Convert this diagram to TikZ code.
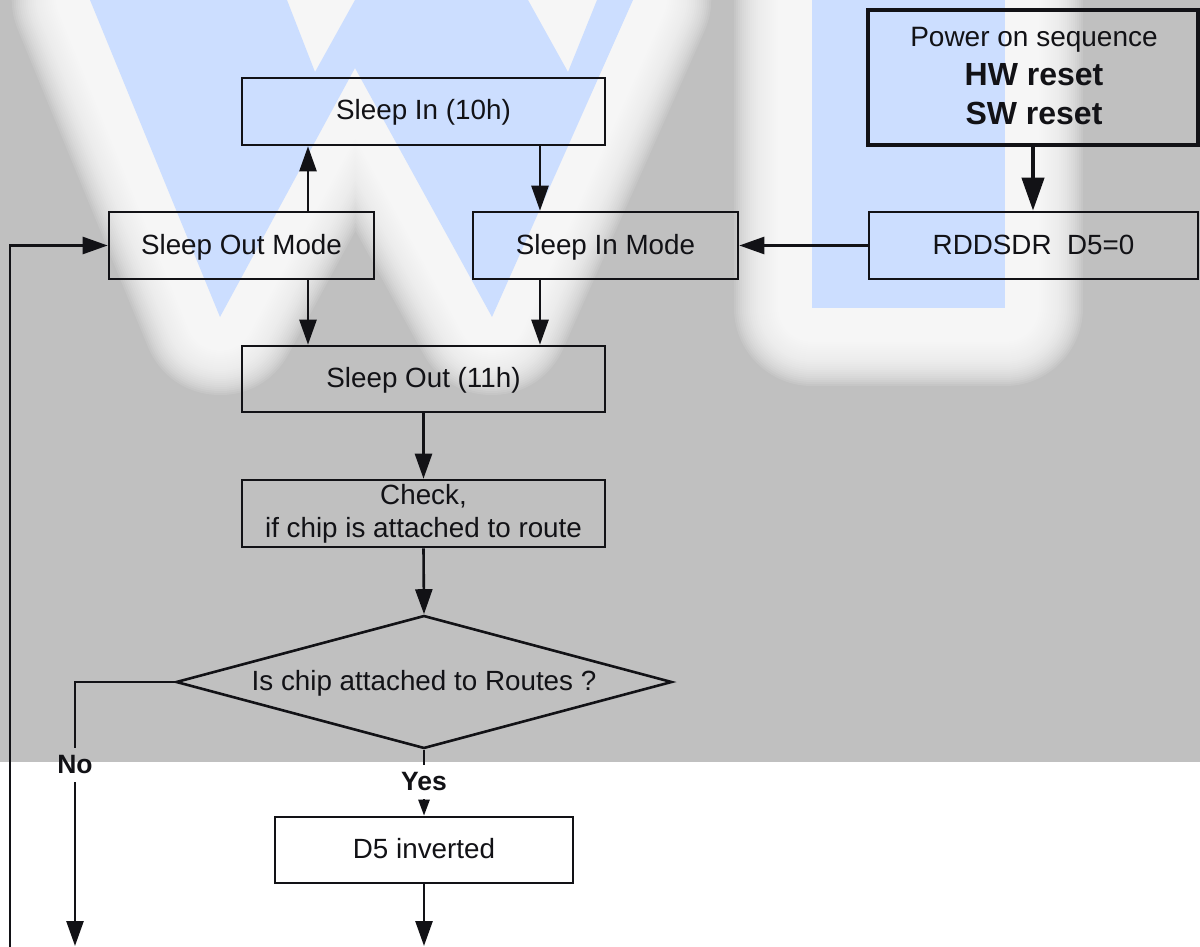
\documentclass[tikz,border=0pt]{standalone}
\usepackage{fontspec}
\setmainfont{Liberation Sans}
\usetikzlibrary{arrows.meta,shapes.geometric}
\definecolor{bggray}{RGB}{192,192,192}
\definecolor{wmblue}{RGB}{204,222,255}
\definecolor{ink}{RGB}{18,18,22}
\begin{document}
\begin{tikzpicture}[x=1pt,y=-1pt,
  every node/.style={font=\fontsize{27.8}{33}\selectfont, text=ink},
  plainbox/.style={draw=ink, line width=2.6pt, rectangle, inner sep=0pt, minimum height=67pt},
  box/.style={plainbox, text height=20pt, text depth=3pt},
  conn/.style={draw=ink, line width=2.6pt},
  arr/.style={conn, -{Triangle[length=25pt,width=17pt]}},
  smallarr/.style={conn, -{Triangle[length=16pt,width=11pt]}},
  bigarr/.style={draw=ink, line width=4.2pt, -{Triangle[length=33pt,width=22pt]}},
  lbl/.style={font=\fontsize{26.5}{30}\selectfont\bfseries, inner xsep=0pt, inner ysep=8pt}
]
\useasboundingbox (0,0) rectangle (1200,947);
\fill[white] (0,0) rectangle (1200,947);
% background with watermark
\begin{scope}
  \clip (0,0) rectangle (1200,762);
  \fill[bggray] (0,0) rectangle (1200,762);
  \foreach \w in {156,152,...,4} {
    \draw[white, opacity=0.1, line width=\w pt, line join=round]
      (90,0) -- (287,0) -- (315,72) -- (355,0) -- (528,0) -- (568,72) -- (597,0)
      -- (633,0) -- (492,317) -- (355,68) -- (220,317) -- cycle;
    \draw[white, opacity=0.1, line width=\w pt, line join=round]
      (812,0) rectangle (1005,308);
  }
  \fill[wmblue]
      (90,0) -- (287,0) -- (315,72) -- (355,0) -- (528,0) -- (568,72) -- (597,0)
      -- (633,0) -- (492,317) -- (355,68) -- (220,317) -- cycle;
  \fill[wmblue] (812,0) rectangle (1005,308);
\end{scope}
% nodes
\node[box, minimum width=363pt] (sin) at (423.5,111.5) {Sleep In (10h)};
\node[box, minimum width=265pt] (som) at (241.5,245.5) {Sleep Out Mode};
\node[box, minimum width=265pt] (sim) at (605.5,245.5) {Sleep In Mode};
\node[box, minimum width=329pt] (rdd) at (1033.5,245.5) {RDDSDR\ \ D5=0};
\node[plainbox, line width=4.5pt, minimum width=330pt, minimum height=135pt] (pwr) at (1033,77.5) {};
\node[align=center, inner sep=0pt, font=\fontsize{28}{39}\selectfont] (pwrtxt) at (1034,76)
  {Power on sequence\\{\fontsize{32}{39}\selectfont\bfseries HW reset}\\{\fontsize{32}{39}\selectfont\bfseries SW reset}};
\node[box, minimum width=363pt, minimum height=66pt] (sout) at (423.5,379) {Sleep Out (11h)};
\node[plainbox, minimum width=363pt, align=center] (chk) at (423.5,513.5) {Check,\\if chip is attached to route};
\node[draw=ink, line width=2.6pt, diamond, aspect=3.7, minimum width=496pt, minimum height=133pt, inner sep=0pt, text height=20pt, text depth=3pt] (dia) at (424,682) {Is chip attached to Routes ?};
\node[box, minimum width=298pt, minimum height=66pt] (d5) at (424,850) {D5 inverted};
\node[lbl] (no) at (75,765) {No};
\node[lbl] (yes) at (424,782) {Yes};
% coordinates
\coordinate (xL) at (308,0);
\coordinate (xR) at (540,0);
\coordinate (loopStart) at (10,947);
\coordinate (noEnd) at (75,946);
\coordinate (d5End) at (424,946);
% connectors
\draw[bigarr] (pwr.south) -- (pwr.south |- rdd.north);
\draw[arr] (rdd.west) -- (sim.east);
\draw[arr] (sin.south -| xR) -- (sim.north -| xR);
\draw[arr] (som.north -| xL) -- (sin.south -| xL);
\draw[arr] (som.south -| xL) -- (sout.north -| xL);
\draw[arr] (sim.south -| xR) -- (sout.north -| xR);
\draw[arr] (sout.south) -- (chk.north);
\draw[arr] (chk.south) -- (dia.north);
\draw[conn] (dia.west) -| (no.north);
\draw[arr] (no.south) -- (noEnd);
\draw[conn] (dia.south) -- (yes.north);
\draw[smallarr] (yes.south) -- (d5.north);
\draw[arr] (d5.south) -- (d5End);
\draw[arr] (loopStart) |- (som.west);
\end{tikzpicture}
\end{document}
